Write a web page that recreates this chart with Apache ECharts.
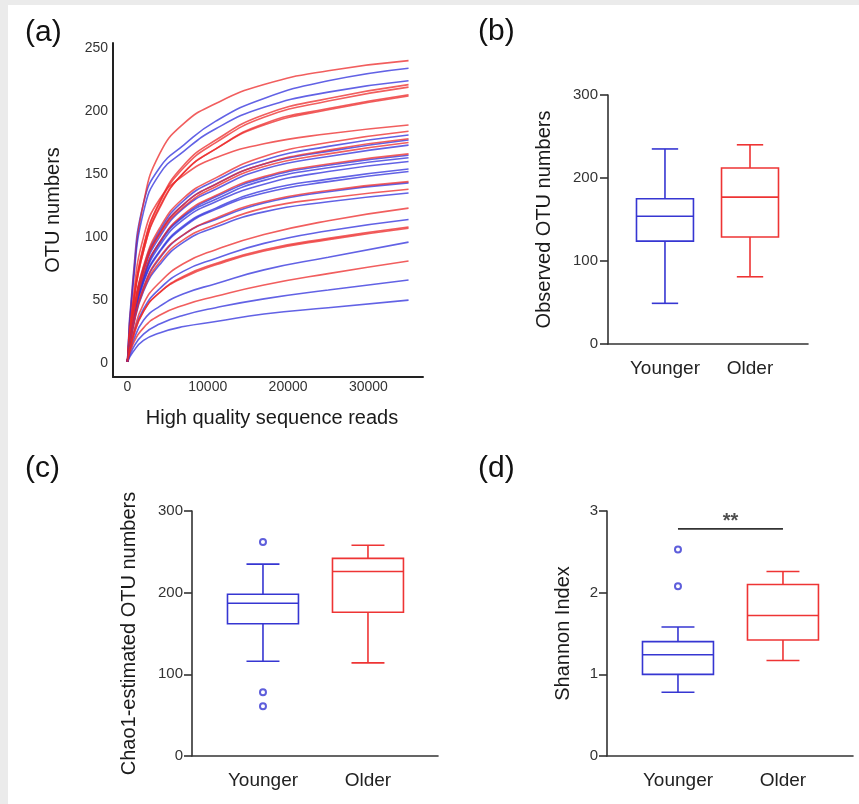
<!DOCTYPE html>
<html><head><meta charset="utf-8">
<script src="https://cdn.jsdelivr.net/npm/echarts@6/dist/echarts.min.js"></script>
<style>html,body{margin:0;padding:0;background:#fff}#c{width:859px;height:804px}</style>
</head><body><div id="c"></div>
<script>
// ---------- DATA ----------
// (a) rarefaction curves: reads (x) and OTU numbers per sample
const readsX = [0, 700, 2000, 4000, 7000, 11000, 17000, 25000, 35000];
const olderCurves = [
  [1,65,127,166,190,206,221,232,240],
  [1,46,93,128,157,177,197,210,221],
  [1,46,92,127,155,175,195,208,219],
  [1,45,89,124,151,170,190,202,213],
  [1,45,89,123,151,170,189,201,212],
  [1,51,100,130,149,163,174,182,189],
  [1,39,77,107,131,147,164,175,184],
  [1,37,75,103,126,142,158,169,178],
  [1,37,74,102,124,140,156,166,175],
  [1,35,70,96,118,133,148,158,166],
  [1,30,60,84,102,115,128,137,144],
  [1,29,58,80,98,110,123,131,138],
  [1,23,47,64,79,90,102,113,123],
  [1,21,41,56,69,79,90,99,108],
  [1,20,41,56,68,78,89,98,107],
  [1,15,28,38,46,53,62,71,81]
];
const youngerCurves = [
  [1,68,127,155,173,192,210,224,234],
  [1,62,120,150,168,186,203,215,224],
  [1,38,76,105,129,145,161,172,181],
  [1,37,74,103,126,142,158,168,177],
  [1,36,73,100,123,138,154,164,173],
  [1,35,69,96,117,132,147,157,165],
  [1,34,68,95,116,130,145,155,163],
  [1,34,67,93,114,128,142,152,160],
  [1,32,65,89,109,123,137,146,154],
  [1,32,64,88,108,122,135,144,152],
  [1,30,60,83,102,114,127,136,143],
  [1,28,57,78,96,108,120,128,135],
  [1,22,43,59,73,83,95,105,114],
  [1,17,34,45,55,63,74,84,96],
  [1,12,23,31,38,44,51,58,66],
  [1,9,18,24,29,33,39,44,50]
];
const readsTicks = [0, 10000, 20000, 30000];
const otuTicks = [0, 50, 100, 150, 200, 250];

// groups
const groups = ['Younger', 'Older'];
// box stats: [min, Q1, median, Q3, max]
const observedYounger = [49, 124, 154, 175, 235];
const observedOlder   = [81, 129, 177, 212, 240];
const chao1Younger = [116, 162, 187, 198, 235];
const chao1Older   = [114, 176, 226, 242, 258];
const chao1YoungerOutliers = [262, 78, 61];
const shannonYounger = [0.78, 1.00, 1.24, 1.40, 1.58];
const shannonOlder   = [1.17, 1.42, 1.72, 2.10, 2.26];
const shannonYoungerOutliers = [2.53, 2.08];
const shannonSignifLevel = 2.78;
const shannonSignifLabel = '**';

// ---------- STYLE ----------
const FONT = 'Liberation Sans, Arial, sans-serif';
const RED = 'rgba(236,40,40,0.75)';
const BLUE = 'rgba(45,45,220,0.75)';
const BOX_BLUE = '#3636d2';
const BOX_RED = '#ee3434';
const AX = '#333';

const chart = echarts.init(document.getElementById('c'), null, {renderer: 'canvas'});

function boxRender(color, boxW, capW) {
  return function (params, api) {
    const x = api.value(0);
    const pMin = api.coord([x, api.value(1)]);
    const pQ1 = api.coord([x, api.value(2)]);
    const pMed = api.coord([x, api.value(3)]);
    const pQ3 = api.coord([x, api.value(4)]);
    const pMax = api.coord([x, api.value(5)]);
    const hw = api.size([boxW, 0])[0] / 2;
    const hc = api.size([capW, 0])[0] / 2;
    const cx = pMed[0];
    const st = {stroke: color, fill: null, lineWidth: 1.6};
    return {type: 'group', children: [
      {type: 'rect', shape: {x: cx - hw, y: pQ3[1], width: 2 * hw, height: pQ1[1] - pQ3[1]}, style: st},
      {type: 'line', shape: {x1: cx - hw, y1: pMed[1], x2: cx + hw, y2: pMed[1]}, style: st},
      {type: 'line', shape: {x1: cx, y1: pQ3[1], x2: cx, y2: pMax[1]}, style: st},
      {type: 'line', shape: {x1: cx, y1: pQ1[1], x2: cx, y2: pMin[1]}, style: st},
      {type: 'line', shape: {x1: cx - hc, y1: pMax[1], x2: cx + hc, y2: pMax[1]}, style: st},
      {type: 'line', shape: {x1: cx - hc, y1: pMin[1], x2: cx + hc, y2: pMin[1]}, style: st}
    ]};
  };
}

function boxSeries(gi, stats, idx, color, boxW, capW) {
  return {
    type: 'custom', xAxisIndex: gi, yAxisIndex: gi, silent: true,
    renderItem: boxRender(color, boxW, capW),
    encode: {x: 0, y: [1, 2, 3, 4, 5]},
    data: [[idx].concat(stats)]
  };
}

function catXAxis(gi, min, max) {
  return {
    type: 'value', gridIndex: gi, min: min, max: max,
    splitLine: {show: false}, axisTick: {show: false},
    axisLine: {onZero: false, lineStyle: {color: AX, width: 1.6}},
    axisLabel: {customValues: [1, 2], formatter: v => groups[Math.round(v) - 1],
      fontSize: 19, color: '#222', fontFamily: FONT, margin: 15}
  };
}
function boxYAxis(gi, max, interval, name, gap, margin) {
  return {
    type: 'value', gridIndex: gi, min: 0, max: max, interval: interval,
    name: name, nameLocation: 'middle', nameGap: gap,
    nameTextStyle: {fontSize: 20, color: '#1a1a1a', fontFamily: FONT},
    splitLine: {show: false},
    axisLine: {show: true, onZero: false, lineStyle: {color: AX, width: 1.6}},
    axisTick: {show: true, length: 8, lineStyle: {color: AX, width: 1.6}},
    axisLabel: {fontSize: 15, color: '#333', fontFamily: FONT, margin: margin}
  };
}

const series = [];
const nCurves = Math.max(olderCurves.length, youngerCurves.length);
function curveSeries(vals, color) {
  return {
    type: 'line', xAxisIndex: 0, yAxisIndex: 0, silent: true,
    data: readsX.map((x, i) => [x, vals[i]]),
    showSymbol: false, smooth: 0.5,
    lineStyle: {color: color, width: 1.6}
  };
}
for (let i = 0; i < nCurves; i++) {
  if (youngerCurves[i]) series.push(curveSeries(youngerCurves[i], BLUE));
  if (olderCurves[i]) series.push(curveSeries(olderCurves[i], RED));
}

// (b)
series.push(boxSeries(1, observedYounger, 1, BOX_BLUE, 0.67, 0.31));
series.push(boxSeries(1, observedOlder, 2, BOX_RED, 0.67, 0.31));
// (c)
series.push(boxSeries(2, chao1Younger, 1, BOX_BLUE, 0.676, 0.314));
series.push(boxSeries(2, chao1Older, 2, BOX_RED, 0.676, 0.314));
series.push({type: 'scatter', xAxisIndex: 2, yAxisIndex: 2, silent: true,
  symbol: 'emptyCircle', symbolSize: 6,
  itemStyle: {color: BOX_BLUE, borderWidth: 1.6},
  data: chao1YoungerOutliers.map(v => [1, v])});
// (d)
series.push(boxSeries(3, shannonYounger, 1, BOX_BLUE, 0.676, 0.314));
series.push(boxSeries(3, shannonOlder, 2, BOX_RED, 0.676, 0.314));
series.push({type: 'scatter', xAxisIndex: 3, yAxisIndex: 3, silent: true,
  symbol: 'emptyCircle', symbolSize: 6,
  itemStyle: {color: BOX_BLUE, borderWidth: 1.6},
  data: shannonYoungerOutliers.map(v => [1, v])});
series.push({type: 'line', xAxisIndex: 3, yAxisIndex: 3, silent: true,
  showSymbol: false, lineStyle: {color: '#333', width: 1.8},
  data: [[1, shannonSignifLevel], [2, shannonSignifLevel]]});
series.push({type: 'scatter', xAxisIndex: 3, yAxisIndex: 3, silent: true,
  symbolSize: 0,
  label: {show: true, position: 'inside', formatter: shannonSignifLabel,
    fontSize: 20, fontWeight: 'bold', color: '#222', fontFamily: FONT},
  data: [[1.5, shannonSignifLevel + 0.09]]});

function panelLabel(txt, x, y) {
  return {type: 'text', left: x, top: y, silent: true,
    style: {text: txt, fontSize: 30, fontFamily: FONT, fill: '#111'}};
}

const option = {
  animation: false,
  backgroundColor: '#fff',
  grid: [
    {left: 113, top: 43, width: 310, height: 334, outerBoundsMode: 'none'},
    {left: 608, top: 95, width: 200, height: 249, outerBoundsMode: 'none'},
    {left: 192, top: 511, width: 246, height: 245, outerBoundsMode: 'none'},
    {left: 607, top: 511, width: 246, height: 245, outerBoundsMode: 'none'}
  ],
  xAxis: [
    {type: 'value', gridIndex: 0, min: -1800, max: 36800,
     name: 'High quality sequence reads', nameLocation: 'middle', nameGap: 31,
     nameTextStyle: {fontSize: 20, color: '#1a1a1a', fontFamily: FONT, padding: [0, 0, 0, 8]},
     splitLine: {show: false}, axisTick: {show: false},
     axisLine: {onZero: false, lineStyle: {color: '#222', width: 2}},
     axisLabel: {customValues: readsTicks, formatter: v => String(v),
       fontSize: 14, color: '#333', fontFamily: FONT, margin: 3}},
    catXAxis(1, 0.33, 2.682),
    catXAxis(2, 0.324, 2.667),
    catXAxis(3, 0.324, 2.667)
  ],
  yAxis: [
    {type: 'value', gridIndex: 0, min: -11, max: 254,
     name: 'OTU numbers', nameLocation: 'middle', nameGap: 50,
     nameTextStyle: {fontSize: 20, color: '#1a1a1a', fontFamily: FONT},
     splitLine: {show: false}, axisTick: {show: false},
     axisLine: {show: true, onZero: false, lineStyle: {color: '#222', width: 2}},
     axisLabel: {customValues: otuTicks, formatter: v => String(v),
       fontSize: 14, color: '#333', fontFamily: FONT, margin: 5}},
    boxYAxis(1, 300, 100, 'Observed OTU numbers', 54, 10),
    boxYAxis(2, 300, 100, 'Chao1-estimated OTU numbers', 53, 9),
    boxYAxis(3, 3, 1, 'Shannon Index', 34, 9)
  ],
  graphic: [
    {type: 'rect', silent: true, shape: {x: 0, y: 0, width: 859, height: 5}, style: {fill: '#ebebeb'}},
    {type: 'rect', silent: true, shape: {x: 0, y: 0, width: 8, height: 804}, style: {fill: '#ebebeb'}},
    panelLabel('(a)', 25, 18),
    panelLabel('(b)', 478, 17),
    panelLabel('(c)', 25, 454),
    panelLabel('(d)', 478, 454)
  ],
  series: series
};
chart.setOption(option);
</script>
</body></html>
